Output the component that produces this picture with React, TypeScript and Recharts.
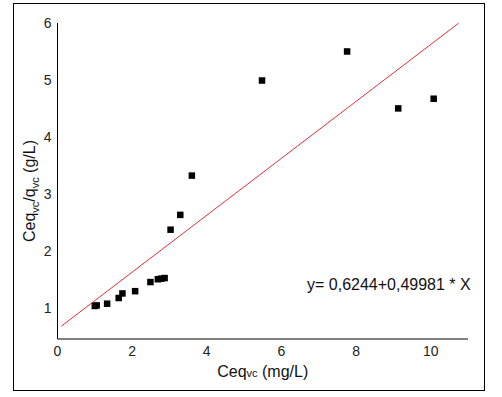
import React from "react";
import { ScatterChart, Scatter, XAxis, YAxis, ReferenceLine } from "recharts";

const ceqValues = [1.0, 1.05, 1.33, 1.64, 1.74, 2.08, 2.49, 2.69, 2.78, 2.87, 3.03, 3.29, 3.6, 5.48, 7.76, 9.13, 10.08];
const ratioValues = [1.03, 1.04, 1.07, 1.17, 1.25, 1.29, 1.45, 1.5, 1.51, 1.52, 2.37, 2.63, 3.32, 4.99, 5.5, 4.5, 4.67];
const xTicks = [0, 2, 4, 6, 8, 10];
const yTicks = [1, 2, 3, 4, 5, 6];
const fitStart = { x: 0.1, y: 0.674 };
const fitEnd = { x: 10.75, y: 5.997 };
const equationText = "y= 0,6244+0,49981 * X";

const points = ceqValues.map((x, i) => ({ x, y: ratioValues[i] }));

const FONT = "'Liberation Sans', Arial, sans-serif";

const SquareShape = (props: any) => {
  const { cx, cy } = props;
  const s = 6.5;
  return <rect x={cx - s / 2} y={cy - s / 2} width={s} height={s} fill="#000" />;
};

export default function App() {
  return (
    <div
      style={{
        position: "absolute",
        left: 0,
        top: 0,
        width: 502,
        height: 397,
        background: "#fff",
        fontFamily: FONT,
      }}
    >
      <div
        style={{
          position: "absolute",
          left: 13,
          top: 3,
          width: 472,
          height: 388,
          border: "1.5px solid #000",
          boxSizing: "border-box",
        }}
      />
      <div style={{ position: "absolute", left: 0, top: 0 }}>
        <ScatterChart width={502} height={397} margin={{ top: 23, right: 34, bottom: 28, left: 0 }}>
          <XAxis
            type="number"
            dataKey="x"
            domain={[0, 11]}
            ticks={xTicks}
            height={30}
            tickLine={false}
            tickSize={0}
            tickMargin={7}
            axisLine={{ stroke: "#000", strokeWidth: 1 }}
            tick={{ fill: "#222", fontSize: 14, fontFamily: FONT }}
            allowDataOverflow
          />
          <YAxis
            type="number"
            dataKey="y"
            domain={[0.45, 6]}
            ticks={yTicks}
            width={57.5}
            tickLine={false}
            tickSize={0}
            tickMargin={6}
            axisLine={{ stroke: "#000", strokeWidth: 1 }}
            tick={{ fill: "#222", fontSize: 14, fontFamily: FONT }}
            allowDataOverflow
          />
          <ReferenceLine
            segment={[fitStart, fitEnd]}
            stroke="#e0303a"
            strokeWidth={1}
            ifOverflow="visible"
          />
          <Scatter data={points} shape={<SquareShape />} isAnimationActive={false} />
        </ScatterChart>
      </div>
      <svg
        width={502}
        height={397}
        style={{ position: "absolute", left: 0, top: 0, pointerEvents: "none" }}
      >
        <text x={307} y={290} fontSize={16} fill="#111" fontFamily={FONT}>
          {equationText}
        </text>
        <text x={262.7} y={376.5} fontSize={16} fill="#111" fontFamily={FONT} textAnchor="middle">
          Ceq
          <tspan fontSize={11}>vc</tspan>
          <tspan> (mg/L)</tspan>
        </text>
        <text
          x={35}
          y={191}
          fontSize={16}
          fill="#111"
          fontFamily={FONT}
          textAnchor="middle"
          transform="rotate(-90, 35, 191)"
        >
          Ceq
          <tspan fontSize={11} dy={4}>vc</tspan>
          <tspan dy={-4}>/q</tspan>
          <tspan fontSize={11} dy={4}>vc</tspan>
          <tspan dy={-4}> (g/L)</tspan>
        </text>
      </svg>
    </div>
  );
}
